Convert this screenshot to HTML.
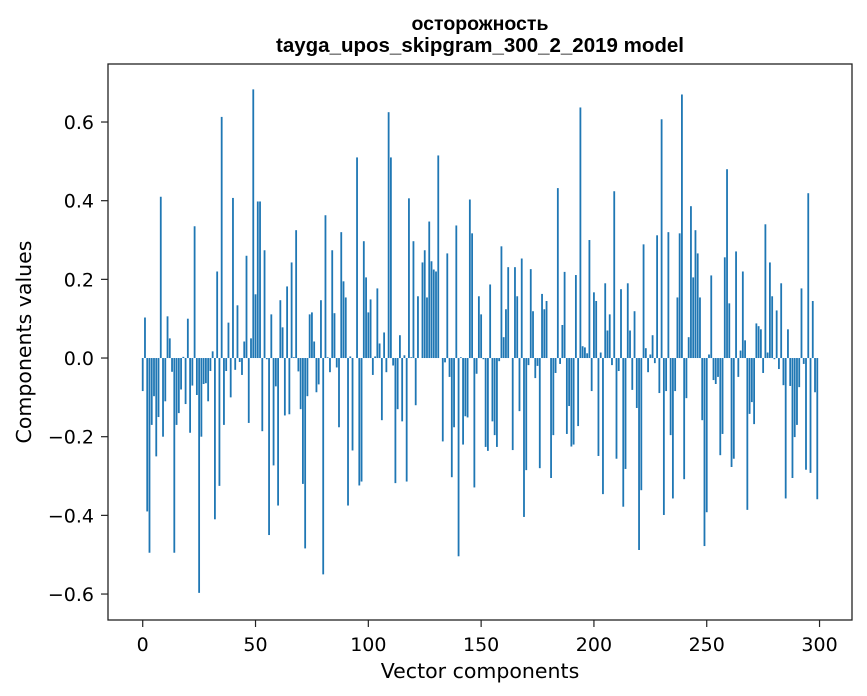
<!DOCTYPE html>
<html><head><meta charset="utf-8"><style>
body{margin:0;background:#fff;}
svg{display:block;font-family:"DejaVu Sans","Liberation Sans",sans-serif;}
</style></head><body>
<svg id="chart" width="867" height="696">
<text x="480" y="30" text-anchor="middle" font-size="19.5" font-weight="bold" font-family="Liberation Sans, sans-serif">осторожность</text>
<text x="480" y="52" text-anchor="middle" font-size="20.5" font-weight="bold" font-family="Liberation Sans, sans-serif">tayga_upos_skipgram_300_2_2019 model</text>
<text x="480" y="678" text-anchor="middle" font-size="20.5">Vector components</text>
<text transform="translate(31,342) rotate(-90)" text-anchor="middle" font-size="20.5">Components values</text>
<g id="bars"></g>
<g id="axes"></g>
</svg>
<script>
const categories = Array.from({length:300},(_,i)=>i);
const values = [
-0.084,0.103,-0.39,-0.495,-0.17,-0.097,-0.25,-0.15,0.41,-0.2,
-0.11,0.106,0.05,-0.035,-0.495,-0.17,-0.14,-0.08,0.003,-0.117,
0.1,-0.19,-0.07,0.335,-0.094,-0.597,-0.2,-0.066,-0.064,-0.11,
-0.033,0.017,-0.41,0.22,-0.325,0.613,-0.17,-0.033,0.09,-0.1,
0.407,-0.03,0.134,-0.01,-0.043,0.042,0.26,-0.165,0.05,0.683,
0.162,0.398,0.398,-0.186,0.274,-0.003,-0.45,0.111,-0.273,-0.072,
-0.375,0.147,0.078,-0.146,0.182,-0.143,0.243,0.002,0.325,-0.034,
-0.13,-0.32,-0.484,-0.097,0.111,0.116,0.042,-0.087,-0.067,0.147,
-0.55,0.363,0.002,-0.036,0.274,0.114,-0.024,-0.176,0.32,0.195,
0.154,-0.375,0.004,-0.235,0.0,0.51,-0.324,-0.314,0.297,0.205,
0.116,0.149,-0.043,0.004,0.177,0.037,-0.158,0.065,-0.036,0.625,
0.51,-0.019,-0.318,-0.13,0.058,-0.161,0.007,-0.314,0.406,0.002,
0.297,-0.12,0.157,0.0,0.243,0.274,0.154,0.347,0.246,0.225,
0.22,0.515,0.0,-0.212,-0.011,0.266,-0.048,-0.303,-0.176,0.337,
-0.504,0.002,-0.22,-0.148,-0.151,0.403,0.317,-0.329,-0.04,0.157,
0.111,-0.003,-0.226,-0.236,0.187,-0.161,-0.196,-0.226,-0.008,0.284,
0.053,0.124,0.231,0.0,-0.234,0.231,0.157,-0.135,0.253,-0.404,
-0.285,-0.018,0.226,0.119,-0.051,-0.02,-0.28,0.163,0.124,0.145,
0.0,-0.305,-0.196,-0.038,0.432,-0.015,0.084,0.219,-0.193,-0.122,
-0.225,-0.22,0.211,-0.173,0.637,0.03,0.027,0.012,0.3,-0.084,
0.167,0.145,-0.249,0.014,-0.346,0.19,0.07,0.111,-0.018,0.424,
-0.256,-0.033,0.175,-0.378,-0.282,0.19,0.07,-0.081,0.119,-0.127,
-0.488,-0.336,0.289,0.025,-0.036,0.009,0.058,-0.013,0.312,-0.089,
0.607,-0.399,-0.084,0.32,-0.196,-0.357,-0.084,0.154,0.317,0.67,
-0.308,-0.102,0.053,0.386,0.205,0.325,0.266,0.154,-0.158,-0.478,
-0.392,0.009,0.21,-0.056,-0.066,-0.048,-0.247,-0.193,0.256,0.48,
0.139,-0.277,-0.256,0.271,-0.048,0.019,0.22,0.045,-0.386,-0.142,
-0.112,-0.168,0.088,0.081,0.073,-0.038,0.34,0.014,0.243,0.157,
-0.003,0.121,-0.028,0.19,-0.069,-0.357,0.073,-0.071,-0.305,-0.201,
-0.17,-0.074,0.177,-0.015,-0.284,0.419,-0.292,0.145,-0.087,-0.359
];
const xTicks = [0,50,100,150,200,250,300];
const yTicks = [-0.6,-0.4,-0.2,0.0,0.2,0.4,0.6];
const yTickLabels = ["−0.6","−0.4","−0.2","0.0","0.2","0.4","0.6"];

const L=108,R=852,T=64,B=620;
const xMin=-15.39,xMax=314.39,yMin=-0.666,yMax=0.7475;
const sx=v=>L+(v-xMin)/(xMax-xMin)*(R-L);
const sy=v=>T+(yMax-v)/(yMax-yMin)*(B-T);
const NS="http://www.w3.org/2000/svg";
const bars=document.getElementById('bars');
categories.forEach((c,i)=>{
  const v=values[i];
  const r=document.createElementNS(NS,'rect');
  const x0=sx(c-0.4),x1=sx(c+0.4);
  r.setAttribute('x',x0);r.setAttribute('width',x1-x0);
  r.setAttribute('y',Math.min(sy(v),sy(0)));
  r.setAttribute('height',Math.abs(sy(v)-sy(0)));
  r.setAttribute('fill','#1f77b4');
  
  
  bars.appendChild(r);
});
const ax=document.getElementById('axes');
const fr=document.createElementNS(NS,'rect');
fr.setAttribute('x',L);fr.setAttribute('y',T);fr.setAttribute('width',R-L);fr.setAttribute('height',B-T);
fr.setAttribute('fill','none');fr.setAttribute('stroke','#222');fr.setAttribute('stroke-width','1.3');


ax.appendChild(fr);
xTicks.forEach(t=>{
  const x=sx(t);
  const l=document.createElementNS(NS,'line');
  l.setAttribute('x1',x);l.setAttribute('x2',x);l.setAttribute('y1',B);l.setAttribute('y2',B+7);
  l.setAttribute('stroke','#222');l.setAttribute('stroke-width','1.2');
  
  
  ax.appendChild(l);
  const tx=document.createElementNS(NS,'text');
  tx.setAttribute('x',x);tx.setAttribute('y',B+31);tx.setAttribute('text-anchor','middle');tx.setAttribute('font-size','19');
  tx.textContent=t;
  
  
  ax.appendChild(tx);
});
yTicks.forEach((t,i)=>{
  const y=sy(t);
  const l=document.createElementNS(NS,'line');
  l.setAttribute('x1',L-7);l.setAttribute('x2',L);l.setAttribute('y1',y);l.setAttribute('y2',y);
  l.setAttribute('stroke','#222');l.setAttribute('stroke-width','1.2');
  
  
  ax.appendChild(l);
  const tx=document.createElementNS(NS,'text');
  tx.setAttribute('x',L-14);tx.setAttribute('y',y+7);tx.setAttribute('text-anchor','end');tx.setAttribute('font-size','19');
  tx.textContent=yTickLabels[i];
  
  
  ax.appendChild(tx);
});
</script>
</body></html>
